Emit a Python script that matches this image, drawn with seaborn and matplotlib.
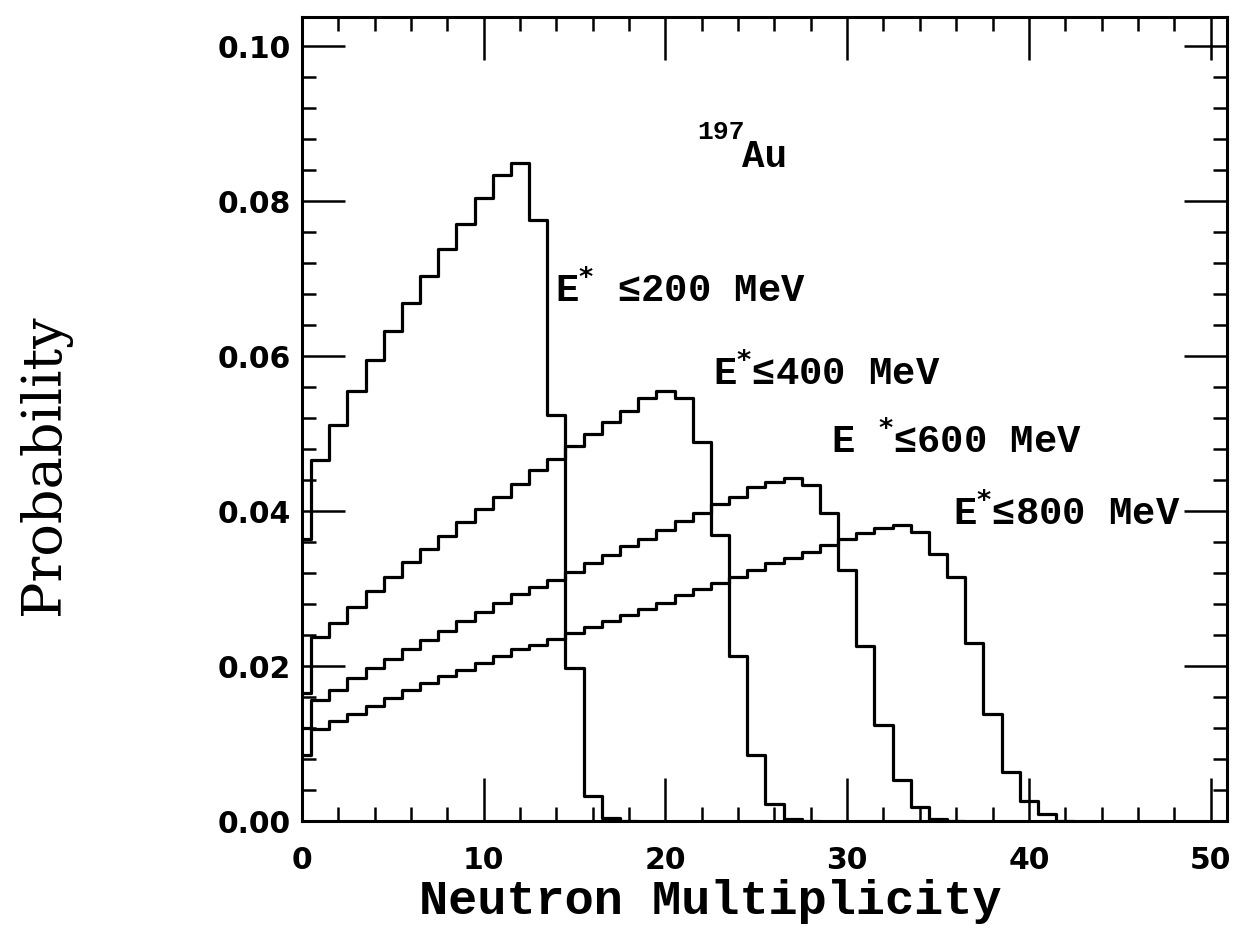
import numpy as np
import pandas as pd
import matplotlib
matplotlib.use("Agg")
import matplotlib.pyplot as plt
import seaborn as sns
from matplotlib.ticker import MultipleLocator, FormatStrFormatter

# Probability per neutron multiplicity bin (bins centred on 0, 1, 2, ...)
prob_200 = [0.0365, 0.0466, 0.0512, 0.0556, 0.0595, 0.0633, 0.0669, 0.0704, 0.0738,
            0.0771, 0.0804, 0.0834, 0.0849, 0.0776, 0.0525, 0.0198, 0.0033, 0.0004, 0.0]
prob_400 = [0.0166, 0.0238, 0.0256, 0.0277, 0.0297, 0.0316, 0.0335, 0.0351, 0.0368,
            0.0386, 0.0403, 0.0419, 0.0435, 0.0453, 0.0467, 0.0484, 0.0500, 0.0516,
            0.0530, 0.0546, 0.0555, 0.0546, 0.0490, 0.0370, 0.0214, 0.0086, 0.0022,
            0.0003, 0.0]
prob_600 = [0.0120, 0.0157, 0.0170, 0.0185, 0.0198, 0.0210, 0.0223, 0.0234, 0.0246,
            0.0258, 0.0270, 0.0282, 0.0294, 0.0302, 0.0312, 0.0322, 0.0334, 0.0344,
            0.0355, 0.0364, 0.0376, 0.0387, 0.0398, 0.0410, 0.0419, 0.0431, 0.0438,
            0.0443, 0.0434, 0.0398, 0.0325, 0.0226, 0.0125, 0.0054, 0.0018, 0.0003, 0.0]
prob_800 = [0.0086, 0.0119, 0.0129, 0.0139, 0.0149, 0.0159, 0.0169, 0.0178, 0.0187,
            0.0195, 0.0204, 0.0213, 0.0222, 0.0228, 0.0235, 0.0243, 0.0251, 0.0258,
            0.0266, 0.0274, 0.0282, 0.0292, 0.0300, 0.0308, 0.0316, 0.0325, 0.0333,
            0.0340, 0.0348, 0.0357, 0.0365, 0.0372, 0.0378, 0.0382, 0.0373, 0.0345,
            0.0315, 0.0230, 0.0138, 0.0064, 0.0026, 0.0010, 0.0]

series_names = ["\u2264200 MeV", "\u2264400 MeV", "\u2264600 MeV", "\u2264800 MeV"]
series_values = [prob_200, prob_400, prob_600, prob_800]
x_ticks = [0, 10, 20, 30, 40, 50]
y_ticks = [0.00, 0.02, 0.04, 0.06, 0.08, 0.10]

sns.set_theme(style="ticks")
plt.rcParams["font.family"] = ["Liberation Mono", "DejaVu Sans Mono", "DejaVu Sans"]
plt.rcParams["mathtext.fontset"] = "custom"
plt.rcParams["mathtext.rm"] = "Liberation Mono"
plt.rcParams["mathtext.bf"] = "DejaVu Sans:bold"
plt.rcParams["text.color"] = "black"
plt.rcParams["axes.labelcolor"] = "black"
plt.rcParams["xtick.color"] = "black"
plt.rcParams["ytick.color"] = "black"

fig = plt.figure(figsize=(12.4, 9.42), dpi=100)
ax = fig.add_axes([0.2435, 0.128, 0.7460, 0.854])

for vals in series_values:
    df = pd.DataFrame({"mult": np.arange(len(vals)), "prob": vals})
    sns.histplot(data=df, x="mult", weights="prob", discrete=True, element="step",
                 fill=False, color="black", linewidth=2.3, ax=ax)

ax.set_xlim(0, 50.9)
ax.set_ylim(0, 0.1038)
ax.set_xticks(x_ticks)
ax.set_yticks(y_ticks)
ax.xaxis.set_minor_locator(MultipleLocator(2))
ax.yaxis.set_minor_locator(MultipleLocator(0.004))
ax.yaxis.set_major_formatter(FormatStrFormatter("%.2f"))
ax.tick_params(which="both", direction="in", top=True, right=True, width=1.8,
               color="black", labelcolor="black")
ax.tick_params(which="major", length=31)
ax.tick_params(which="minor", length=10)
ax.tick_params(axis="x", which="major", pad=18)
ax.tick_params(axis="y", which="major", pad=8)
for lab in ax.get_xticklabels() + ax.get_yticklabels():
    lab.set_fontfamily(["DejaVu Sans"])
    lab.set_fontweight("bold")
    lab.set_fontsize(21.5)
for sp in ax.spines.values():
    sp.set_linewidth(2.2)
    sp.set_color("black")

ax.set_xlabel("Neutron Multiplicity", fontsize=35, fontweight="bold", va="top")
ax.xaxis.set_label_coords(0.441, -0.072)
ax.set_ylabel("Probability", fontsize=39, family=["DejaVu Serif"], va="center")
ax.yaxis.set_label_coords(-0.278, 0.443)

txt_kw = dict(fontsize=28, fontweight="bold", va="center", ha="left", color="black")
ax.text(13.95, 0.0686, "E$^{\\mathbf{*}}$ " + series_names[0], **txt_kw)
ax.text(22.6, 0.0579, "E$^{\\mathbf{*}}$" + series_names[1], **txt_kw)
ax.text(29.1, 0.0492, "E $^{\\mathbf{*}}$" + series_names[2], **txt_kw)
ax.text(35.8, 0.0398, "E$^{\\mathbf{*}}$" + series_names[3], **txt_kw)
ax.text(21.75, 0.0890, "197", fontsize=19, fontweight="bold", va="center", ha="left")
ax.text(24.2, 0.0857, "Au", fontsize=27, fontweight="bold", va="center", ha="left")

fig.savefig("out.png", dpi=100)
